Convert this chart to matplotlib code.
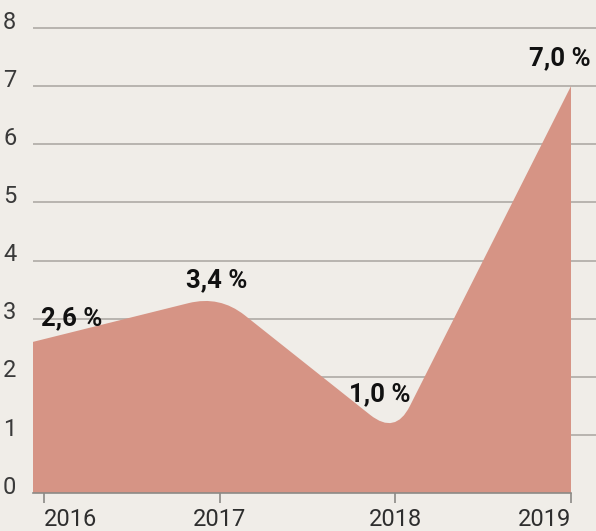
import matplotlib.pyplot as plt
import numpy as np
from matplotlib.path import Path
from matplotlib.patches import PathPatch
from matplotlib.transforms import ScaledTranslation

# data
years = [2016, 2017, 2018, 2019]
values = [2.6, 3.4, 1.0, 7.0]
labels = ["2,6 %", "3,4 %", "1,0 %", "7,0 %"]
yticks = [0, 1, 2, 3, 4, 5, 6, 7, 8]

bg = "#f0ede8"
fill = "#d69485"
grid = "#aeaaa5"
txt = "#2e2e2e"

plt.rcParams["font.family"] = ["Roboto", "DejaVu Sans"]

fig = plt.figure(figsize=(5.96, 5.31), dpi=100, facecolor=bg)
ax = fig.add_axes([33 / 596, 38 / 531, 563 / 596, 493 / 531])
ax.set_facecolor(bg)

px_year = 527 / 3.0
ax.set_xlim(2016 - 11 / px_year, 2019 + 25 / px_year)
ax.set_ylim(0, 8 + 28 / 58.125)

for s in ["top", "right", "left"]:
    ax.spines[s].set_visible(False)
ax.spines["bottom"].set_color("#8c8a86")
ax.spines["bottom"].set_linewidth(1.2)
ax.spines["bottom"].set_bounds(ax.get_xlim()[0], years[-1])

for v in yticks[1:]:
    ax.axhline(v, color=grid, lw=1.2, zorder=1)

# area with rounded corners, built in pixel space
x0 = ax.get_xlim()[0]
xs = [x0] + years[1:]
pts = ax.transData.transform(np.column_stack([xs, values]))
d = 32.0
verts = [pts[0]]
codes = [Path.MOVETO]
for i in range(1, len(pts) - 1):
    p, v, n = pts[i - 1], pts[i], pts[i + 1]
    a = v + (p - v) / np.linalg.norm(p - v) * d
    b = v + (n - v) / np.linalg.norm(n - v) * d
    verts += [a, v, b]
    codes += [Path.LINETO, Path.CURVE3, Path.CURVE3]
verts.append(pts[-1])
codes.append(Path.LINETO)
base = ax.transData.transform([[years[-1], 0], [x0, 0]])
verts += [base[0], base[1], pts[0]]
codes += [Path.LINETO, Path.LINETO, Path.CLOSEPOLY]
verts = ax.transData.inverted().transform(np.array(verts))
ax.add_patch(PathPatch(Path(verts, codes), facecolor=fill, edgecolor="none", zorder=2))

# value labels
offsets = [(-2, 17), (-2, 11), (-11, 29), (-8, 20)]
aligns = ["left", "center", "center", "center"]
for i, (x, y) in enumerate(zip(years, values)):
    ax.annotate(labels[i], (x, y), xytext=offsets[i], textcoords="offset points",
                ha=aligns[i], va="center", fontsize=18.5, fontweight="bold",
                color="#111111", zorder=4)

ax.set_xticks(years)
ax.set_xticklabels([str(y) for y in years])
ax.tick_params(axis="x", length=7, width=1.2, color="#8c8a86", colors=txt,
               labelsize=17, pad=4, labelcolor=txt)
xl = ax.get_xticklabels()
xl[0].set_ha("left")
xl[-1].set_ha("right")

ax.set_yticks(yticks)
ax.set_yticklabels([str(v) for v in yticks])
ax.tick_params(axis="y", length=0, labelsize=17, pad=12, labelcolor="#3a3a3a")
up = ScaledTranslation(0, 6 / 72, fig.dpi_scale_trans)
for lab in ax.get_yticklabels():
    lab.set_transform(lab.get_transform() + up)

fig.savefig("out.png", dpi=100, facecolor=bg)
